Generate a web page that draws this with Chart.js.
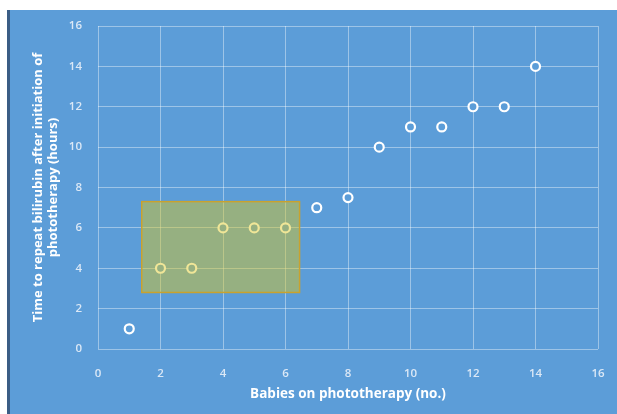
<!DOCTYPE html>
<html>
<head>
<meta charset="utf-8">
<script src="https://cdn.jsdelivr.net/npm/chart.js@4/dist/chart.umd.min.js"></script>
<style>
  html, body { margin: 0; padding: 0; background: #ffffff; }
  #wrap {
    position: absolute;
    left: 7px;
    top: 10px;
    width: 607px;
    height: 404px;
    border-left: 3px solid #3b5d85;
    background: #5c9dd8;
  }
  canvas { display: block; }
</style>
</head>
<body>
<div id="wrap"><canvas id="chart" width="607" height="404"></canvas></div>
<script>
const babies = [1, 2, 3, 4, 5, 6, 7, 8, 9, 10, 11, 12, 13, 14];
const hours = [1, 4, 4, 6, 6, 6, 7, 7.5, 10, 11, 11, 12, 12, 14];
const xTicks = [0, 2, 4, 6, 8, 10, 12, 14, 16];
const yTicks = [0, 2, 4, 6, 8, 10, 12, 14, 16];
// highlighted region in data units: [xMin, xMax, yMin, yMax]
const highlight = [1.4, 6.45, 2.8, 7.3];

const boxPlugin = {
  id: "highlightBox",
  afterDatasetsDraw(chart) {
    const ctx = chart.ctx;
    const xs = chart.scales.x;
    const ys = chart.scales.y;
    const x1 = xs.getPixelForValue(highlight[0]);
    const x2 = xs.getPixelForValue(highlight[1]);
    const y1 = ys.getPixelForValue(highlight[3]);
    const y2 = ys.getPixelForValue(highlight[2]);
    ctx.save();
    ctx.fillStyle = "rgba(222, 200, 25, 0.45)";
    ctx.fillRect(x1, y1, x2 - x1, y2 - y1);
    ctx.strokeStyle = "#c9a22e";
    ctx.lineWidth = 1.5;
    ctx.strokeRect(x1, y1, x2 - x1, y2 - y1);
    ctx.restore();
  },
};

const tickFont = { family: "Open Sans", size: 11.5, weight: 600 };
const titleFont = { family: "Open Sans", size: 13.5, weight: 700 };

new Chart(document.getElementById("chart"), {
  type: "scatter",
  data: {
    datasets: [
      {
        data: babies.map((b, i) => ({ x: b, y: hours[i] })),
        pointRadius: 4.5,
        pointBorderWidth: 2.2,
        pointBorderColor: "#ffffff",
        pointBackgroundColor: "#5c9dd8",
        pointHoverRadius: 4.5,
      },
    ],
  },
  options: {
    responsive: false,
    animation: false,
    layout: { padding: { top: 16, right: 19, bottom: 12, left: 0 } },
    plugins: {
      legend: { display: false },
      tooltip: { enabled: false },
    },
    scales: {
      x: {
        type: "linear",
        min: 0,
        max: 16,
        afterBuildTicks: (s) => { s.ticks = xTicks.map((v) => ({ value: v })); },
        afterFit: (s) => { s.height = 53; s.paddingLeft = 0; s.paddingRight = 0; },
        grid: { color: "rgba(255,255,255,0.4)", tickLength: 0 },
        border: { display: false },
        ticks: { color: "#dbe8f6", font: tickFont, padding: 18 },
        title: {
          display: true,
          text: "Babies on phototherapy (no.)",
          color: "#ffffff",
          font: titleFont,
          padding: { top: 4, bottom: 0 },
        },
      },
      y: {
        type: "linear",
        min: 0,
        max: 16,
        afterBuildTicks: (s) => { s.ticks = yTicks.map((v) => ({ value: v })); },
        afterFit: (s) => { s.width = 88; s.paddingTop = 0; s.paddingBottom = 0; },
        grid: { color: "rgba(255,255,255,0.4)", tickLength: 0 },
        border: { display: false },
        ticks: { color: "#dbe8f6", font: tickFont, padding: 16 },
        title: {
          display: true,
          text: ["Time to repeat bilirubin after initiation of", "phototherapy (hours)"],
          color: "#ffffff",
          font: { family: "Open Sans", size: 13, weight: 700 },
          padding: { top: 20, bottom: 0 },
        },
      },
    },
  },
  plugins: [boxPlugin],
});
</script>
</body>
</html>
